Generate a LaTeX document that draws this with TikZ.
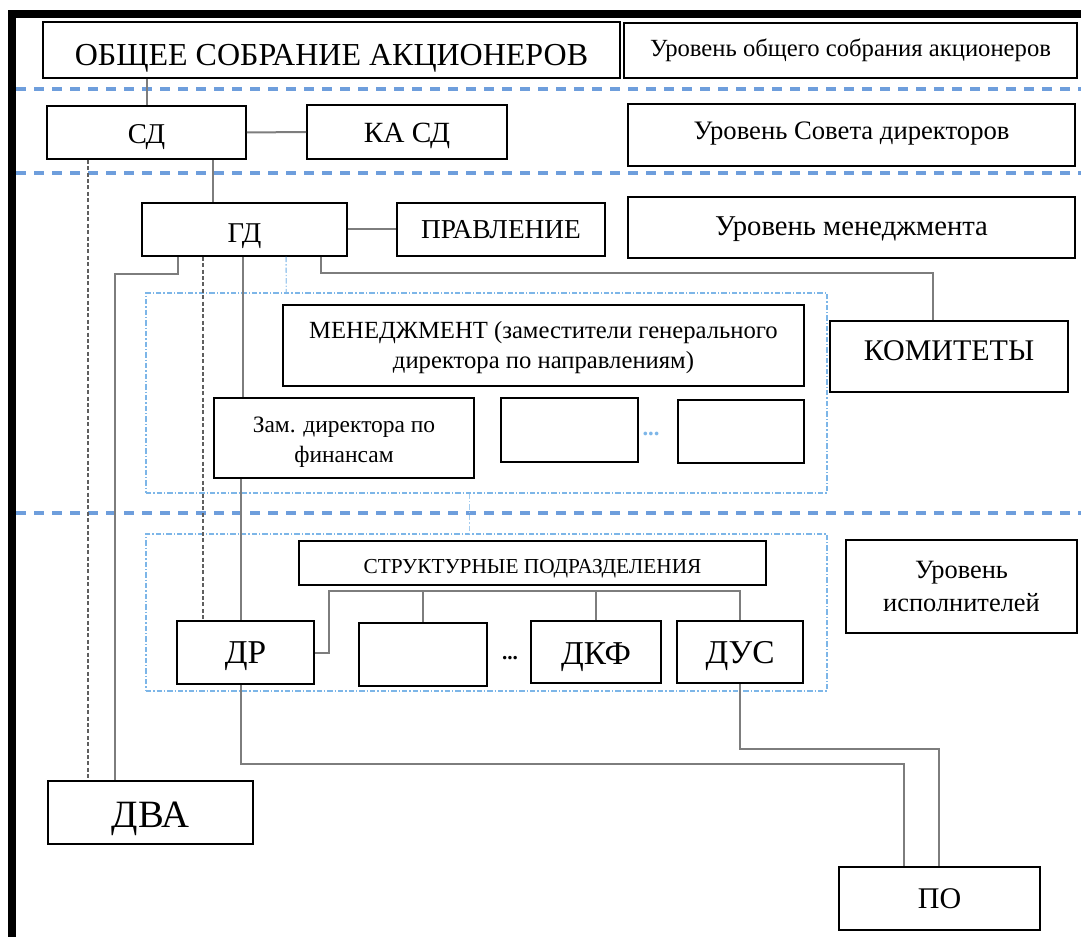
\documentclass[tikz,border=0pt]{standalone}
\usepackage{fontspec}
\setmainfont{Liberation Serif}
\usetikzlibrary{calc}
\definecolor{sepblue}{RGB}{110,158,220}
\definecolor{ctblue}{RGB}{125,182,232}
\definecolor{conngray}{RGB}{125,125,125}
\definecolor{dashgray}{RGB}{95,95,95}
\tikzset{
 box/.style={draw=black, line width=1.3pt, fill=white, inner sep=0pt, align=center},
 sz/.style 2 args={minimum width=#1*0.75pt, minimum height=#2*0.75pt},
 th/.style 2 args={text height=#1, text depth=#2},
 conn/.style={draw=conngray, line width=1.5pt},
 dconn/.style={draw=dashgray, line width=1.2pt, dash pattern=on 3pt off 1.8pt},
 sep/.style={draw=sepblue, line width=2.4pt, dash pattern=on 7.5pt off 6pt},
 cont/.style={draw=ctblue, line width=1.2pt, dash pattern=on 4pt off 1.5pt on 1pt off 1.5pt, inner sep=0pt},
 faint/.style={draw=ctblue!70, line width=1pt, dash pattern=on 4pt off 1.5pt on 1pt off 1.5pt},
 fs/.style={font=\fontsize{#1pt}{#1pt}\selectfont},
}
\begin{document}
\begin{tikzpicture}[x=0.75pt,y=-0.75pt]
\useasboundingbox (0,0) rectangle (1081,937);
% frame
\fill[black] (8,10) rectangle (16,937);
\fill[black] (8,10) rectangle (1081,18);
% level separators
\draw[sep] (16,89) -- (1081,89);
\draw[sep] (16,173) -- (1081,173);
\draw[sep] (16,513) -- (1081,513);
% containers
\node[cont, sz={681}{200}] (mc) at (486.5,393) {};
\node[cont, sz={681}{157}] (ec) at (486.5,612.5) {};
% boxes
\node[box, sz={577}{56}, fs=24, th={22.6pt}{0pt}] (osa) at (331.5,50) {ОБЩЕЕ СОБРАНИЕ АКЦИОНЕРОВ};
\node[box, sz={453}{55}, fs=18.5, th={12.2pt}{3pt}] (uosa) at (850.5,50.5) {Уровень общего собрания акционеров};
\node[box, sz={199}{53}, fs=21.5, th={17.2pt}{0pt}] (sd) at (146.5,132.5) {СД};
\node[box, sz={200}{54}, fs=22, th={16pt}{0pt}] (kasd) at (407,132) {КА СД};
\node[box, sz={447}{62}, fs=20, th={13.2pt}{6pt}] (usd) at (851.5,135) {Уровень Совета директоров};
\node[box, sz={205}{53}, fs=21.5, th={19.4pt}{0pt}] (gd) at (244.5,229.5) {ГД};
\node[box, sz={208}{53}, fs=20.5, th={13.5pt}{0pt}] (prav) at (501,229.5) {ПРАВЛЕНИЕ};
\node[box, sz={447}{61}, fs=21.5, th={14.2pt}{2.2pt}] (um) at (851.5,227.5) {Уровень менеджмента};
\node[box, sz={521}{81}, font=\fontsize{18.5pt}{22.5pt}\selectfont] (men) at (543.5,345.5) {\rule{0pt}{15.5pt}МЕНЕДЖМЕНТ (заместители генерального\\директора по направлениям)};
\node[box, sz={260}{80}, font=\fontsize{17.6pt}{22.5pt}\selectfont] (zam) at (344,438) {\rule{0pt}{18pt}Зам. директора по\\финансам};
\node[box, sz={137}{64}] (e1) at (569.5,430) {};
\node[box, sz={126}{63}] (e2) at (741,431.5) {};
\node[text=ctblue, fs=17, inner sep=0pt] (dots1) at (651,434) {\textbf{...}};
\node[box, sz={238}{71}, fs=22.5, th={14.85pt}{9pt}] (kom) at (949,356.5) {КОМИТЕТЫ};
\node[box, sz={467}{44}, fs=16, th={15.1pt}{0pt}] (str) at (532.5,563) {СТРУКТУРНЫЕ ПОДРАЗДЕЛЕНИЯ};
\node[box, sz={231}{93}, font=\fontsize{19.8pt}{25pt}\selectfont] (uisp) at (961.5,586.5) {Уровень\\исполнителей};
\node[box, sz={137}{63}, fs=25, th={16.5pt}{0pt}] (dr) at (245.5,652.5) {ДР};
\node[box, sz={128}{63}] (e3) at (423,654.5) {};
\node[fs=16, inner sep=0pt] (dots2) at (510,658) {\textbf{...}};
\node[box, sz={130}{62}, fs=25, th={18pt}{0pt}] (dkf) at (596,652) {ДКФ};
\node[box, sz={126}{62}, fs=25, th={17pt}{0pt}] (dus) at (740,652) {ДУС};
\node[box, sz={205}{63}, fs=29, th={22.9pt}{0pt}] (dva) at (150.5,812.5) {ДВА};
\node[box, sz={201}{63}, fs=22.5, th={14.85pt}{0pt}] (po) at (939.5,898.5) {ПО};
% connectors
\draw[conn] (sd.north) -- (sd.north |- osa.south);
\draw[conn] (sd.east) -- (kasd.west);
\draw[conn] ($(sd.south west)+(167,0)$) -- ($(gd.north west)+(72,0)$);
\draw[conn] (gd.east) -- (prav.west);
\draw[dconn] ($(sd.south west)+(42,0)$) -- ($(dva.north west)+(41,0)$);
\draw[conn] ($(gd.south west)+(37,0)$) -- ++(0,17) -| ($(dva.north west)+(68,0)$);
\draw[dconn] ($(gd.south west)+(62,0)$) -- ($(dr.north west)+(27,0)$);
\draw[conn] ($(gd.south west)+(102,0)$) -- ($(zam.north west)+(30,0)$);
\draw[faint] ($(gd.south west)+(145,0)$) -- ($(mc.north west)+(141,0)$);
\draw[conn] ($(gd.south west)+(180,0)$) -- ++(0,16) -| ($(kom.north west)+(104,0)$);
\draw[conn] ($(zam.south west)+(28,0)$) -- ($(dr.north west)+(65,0)$);
\draw[faint] ($(mc.south west)+(324,0)$) -- ($(ec.north west)+(324,0)$);
\coordinate (bus) at ($(str.south)+(0,5)$);
\draw[conn] (dr.east) -| ($(str.south west)+(31,5)$) -| (dus.north);
\draw[conn] (e3.north) -- (e3.north |- bus);
\draw[conn] (dkf.north) -- (dkf.north |- bus);
\draw[conn] ($(dr.south west)+(65,0)$) -- ++(0,79) -| ($(po.north west)+(66,0)$);
\draw[conn] (dus.south) -- ++(0,65) -| ($(po.north west)+(101,0)$);
\end{tikzpicture}
\end{document}
